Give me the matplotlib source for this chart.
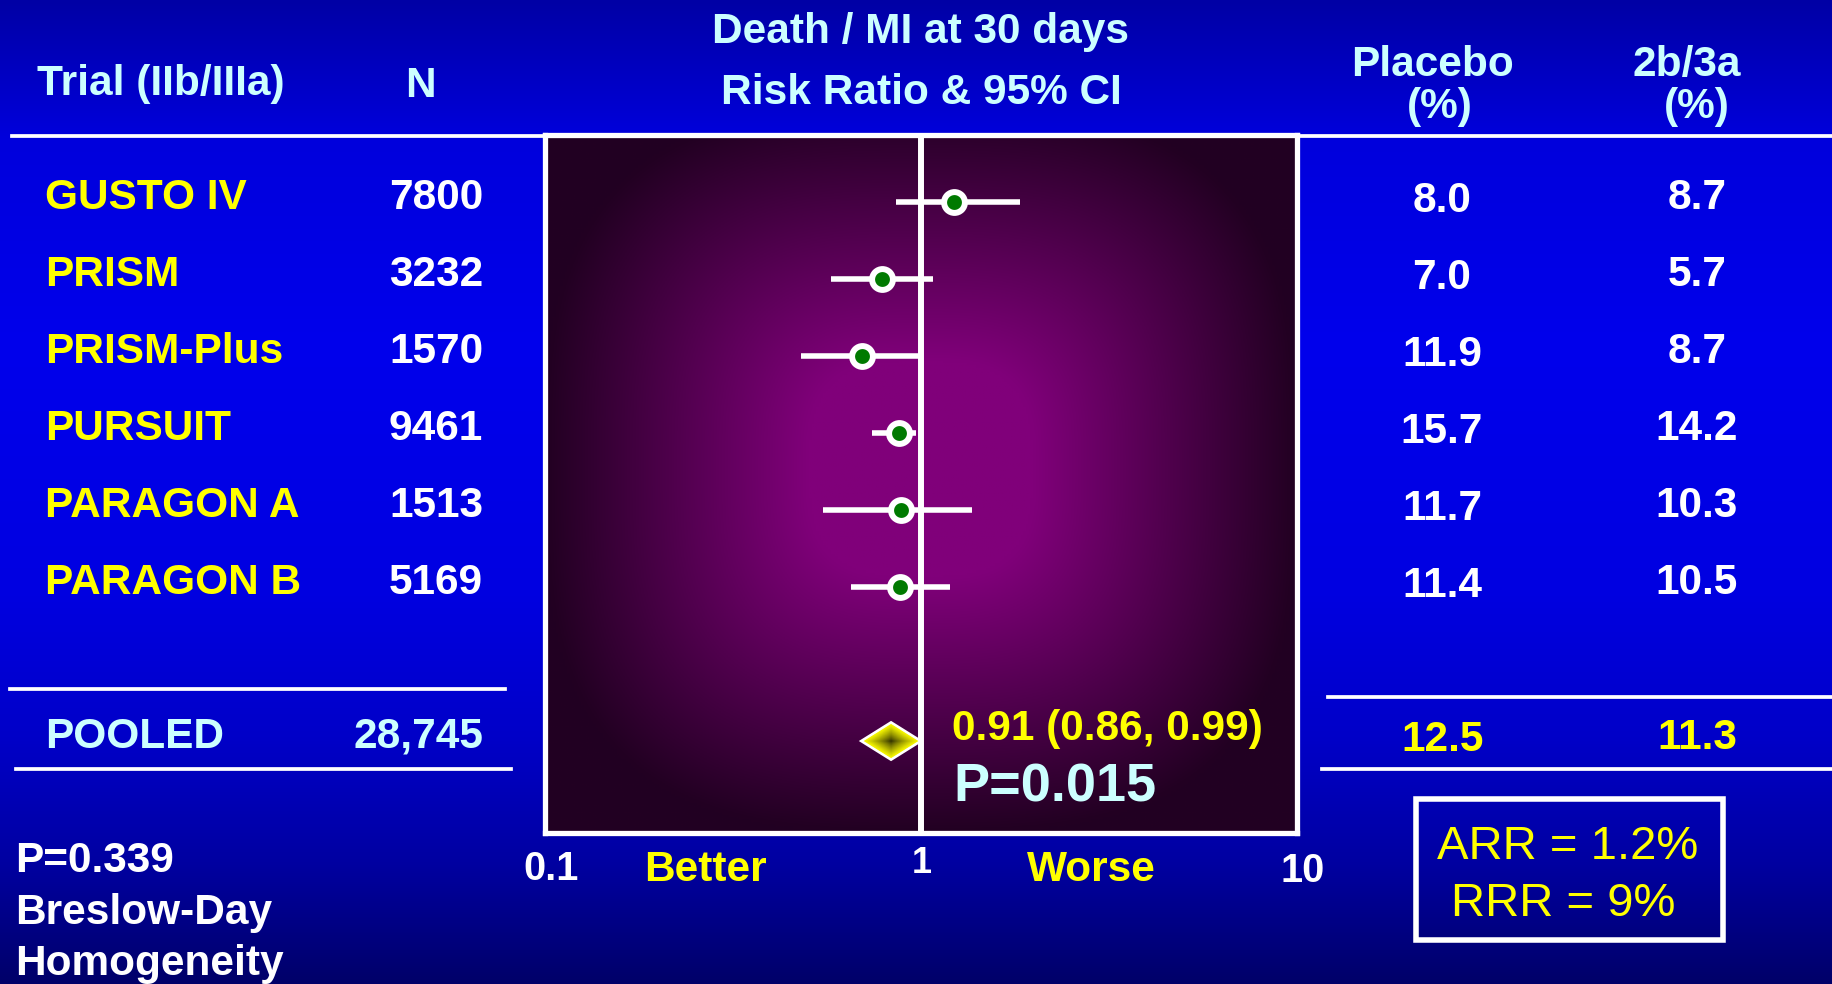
import numpy as np
import matplotlib
matplotlib.use('Agg')
import matplotlib.pyplot as plt
from matplotlib.patches import Polygon, Rectangle

plt.rcParams['font.family'] = ['Liberation Sans', 'DejaVu Sans']

# --- data ---
trials = ['GUSTO IV', 'PRISM', 'PRISM-Plus', 'PURSUIT', 'PARAGON A', 'PARAGON B']
n_patients = ['7800', '3232', '1570', '9461', '1513', '5169']
placebo_pct = ['8.0', '7.0', '11.9', '15.7', '11.7', '11.4']
gp_pct = ['8.7', '5.7', '8.7', '14.2', '10.3', '10.5']
rr = [1.23, 0.79, 0.70, 0.875, 0.888, 0.88]
rr_lo = [0.862, 0.577, 0.48, 0.743, 0.552, 0.654]
rr_hi = [1.84, 1.077, 0.99, 0.971, 1.374, 1.195]

pooled_n = '28,745'
pooled_placebo = '12.5'
pooled_gp = '11.3'
pooled_rr, pooled_lo, pooled_hi = 0.835, 0.702, 0.993
pooled_text = '0.91 (0.86, 0.99)'
pooled_p = 'P=0.015'
xtick_labels = ['0.1', '1', '10']

W, H = 1832, 984
CYAN = '#ccffff'
YEL = '#ffff00'

fig = plt.figure(figsize=(W / 100, H / 100), dpi=100)

# background axes in pixel coordinates
bg = fig.add_axes([0, 0, 1, 1])
yb = np.linspace(0, 1, 400)
blue = np.interp(yb, [0, 0.14, 0.35, 0.6, 0.75, 0.88, 1.0],
                 [165, 220, 236, 225, 200, 160, 105]) / 255
grad = np.zeros((400, 2, 3))
grad[:, :, 2] = blue[:, None]
bg.imshow(grad, extent=[0, W, H, 0], aspect='auto', zorder=0)

# purple panel gradient (bright core, dark rim)
L, R, T, B = 544.5, 1296.5, 135, 832.5
ph, pw = 300, 320
yy, xx = np.mgrid[0:ph, 0:pw]
dx = np.abs(xx / (pw - 1) - 0.5) / 0.5
dy = np.abs(yy / (ph - 1) - 0.48) / 0.52
d = (dx ** 3 + dy ** 3) ** (1 / 3)
t = np.clip((d - 0.3) / 0.7, 0, 1)
c0 = np.array([128, 0, 122]) / 255
c1 = np.array([34, 0, 34]) / 255
pimg = c0 + (c1 - c0) * t[..., None]
bg.imshow(pimg, extent=[L, R, B, T], aspect='auto', zorder=1)
bg.set_xlim(0, W)
bg.set_ylim(H, 0)
bg.axis('off')

# rules
lw_rule = 2.7
bg.plot([12, L], [136, 136], color='white', lw=lw_rule, zorder=2)
bg.plot([R, W], [136, 136], color='white', lw=lw_rule, zorder=2)
bg.plot([10, 505], [689, 689], color='white', lw=lw_rule, zorder=2)
bg.plot([16, 511], [769, 769], color='white', lw=lw_rule, zorder=2)
bg.plot([1328, W], [697, 697], color='white', lw=lw_rule, zorder=2)
bg.plot([1322, W], [769, 769], color='white', lw=lw_rule, zorder=2)

fs = 30.5
bold = dict(fontweight='bold', fontsize=fs, va='baseline')

# headers
bg.text(37, 95, 'Trial (IIb/IIIa)', color=CYAN, ha='left', **bold)
bg.text(420, 97, 'N', color=CYAN, ha='center', **bold)
bg.text(920, 43, 'Death / MI at 30 days', color=CYAN, ha='center', **bold)
bg.text(921, 104, 'Risk Ratio & 95% CI', color=CYAN, ha='center', **bold)
bg.text(1433, 76, 'Placebo', color=CYAN, ha='center', **bold)
bg.text(1440, 118, '(%)', color=CYAN, ha='center', **bold)
bg.text(1687, 76, '2b/3a', color=CYAN, ha='center', **bold)
bg.text(1697, 118, '(%)', color=CYAN, ha='center', **bold)

# table rows
for i, name in enumerate(trials):
    yl = 209 + 77 * i
    bg.text(45, yl, name, color=YEL, ha='left', **bold)
    bg.text(483, yl, n_patients[i], color='white', ha='right', **bold)
    bg.text(1442, yl + 3, placebo_pct[i], color='white', ha='center', **bold)
    bg.text(1697, yl, gp_pct[i], color='white', ha='center', **bold)

bg.text(45, 748, 'POOLED', color=CYAN, ha='left', **bold)
bg.text(483, 748, pooled_n, color=CYAN, ha='right', **bold)
bg.text(1443, 751, pooled_placebo, color=YEL, ha='center', **bold)
bg.text(1697, 749, pooled_gp, color=YEL, ha='center', **bold)

# axis labels under panel
bg.text(551, 880, xtick_labels[0], color='white', ha='center', fontweight='bold', fontsize=28.5, va='baseline')
bg.text(922, 873, xtick_labels[1], color='white', ha='center', fontweight='bold', fontsize=26, va='baseline')
bg.text(1303, 882, xtick_labels[2], color='white', ha='center', fontweight='bold', fontsize=28.5, va='baseline')
bg.text(705, 881, 'Better', color=YEL, ha='center', **bold)
bg.text(1091, 881, 'Worse', color=YEL, ha='center', **bold)

# heterogeneity note
bg.text(15, 872, 'P=0.339', color='white', ha='left', **bold)
bg.text(15, 924, 'Breslow-Day', color='white', ha='left', **bold)
bg.text(15, 975, 'Homogeneity', color='white', ha='left', **bold)

# ARR / RRR box
bg.add_patch(Rectangle((1416, 799), 307, 141, fill=False, edgecolor='white', lw=4, zorder=3))
bg.text(1568, 859, 'ARR = 1.2%', color=YEL, ha='center', fontsize=34, va='baseline')
bg.text(1563, 916, 'RRR = 9%', color=YEL, ha='center', fontsize=34, va='baseline')

# --- forest plot panel ---
ax = fig.add_axes([L / W, 1 - B / H, (R - L) / W, (B - T) / H])
ax.set_facecolor('none')
ax.set_xscale('log')
ax.set_xlim(0.1, 10)
ax.set_ylim(8.188, -0.870)
ax.set_xticks([])
ax.set_yticks([])
ax.minorticks_off()
for sp in ax.spines.values():
    sp.set_color('white')
    sp.set_linewidth(3.8)

ax.axvline(1, color='white', lw=4.3, zorder=2)

rows = np.arange(len(trials))
ax.hlines(rows, rr_lo, rr_hi, color='white', lw=4, zorder=3)
ax.plot(rr, rows, 'o', ms=15, mfc='#007a00', mec='white', mew=4.3, zorder=4, ls='none')

# pooled diamond with dark centre
py = 7
half_h = 0.23
cx, lo, hi = np.log10(pooled_rr), np.log10(pooled_lo), np.log10(pooled_hi)
yellow = np.array([1.0, 1.0, 0.0])
dark = np.array([0.15, 0.15, 0.0])
for k in np.linspace(1, 0.04, 30):
    xs = 10 ** np.array([cx + k * (lo - cx), cx, cx + k * (hi - cx), cx])
    ys = np.array([py, py - k * half_h, py, py + k * half_h])
    col = dark + (yellow - dark) * k ** 0.8
    ec = 'white' if k == 1 else 'none'
    ax.add_patch(Polygon(np.column_stack([xs, ys]), closed=True, facecolor=col,
                         edgecolor=ec, lw=3 if k == 1 else 0, zorder=5))

bg.text(952, 740, pooled_text, color=YEL, ha='left', **bold)
bg.text(953, 802, pooled_p, color=CYAN, ha='left', fontweight='bold', fontsize=39, va='baseline', zorder=6)

fig.savefig('out.png', dpi=100)
